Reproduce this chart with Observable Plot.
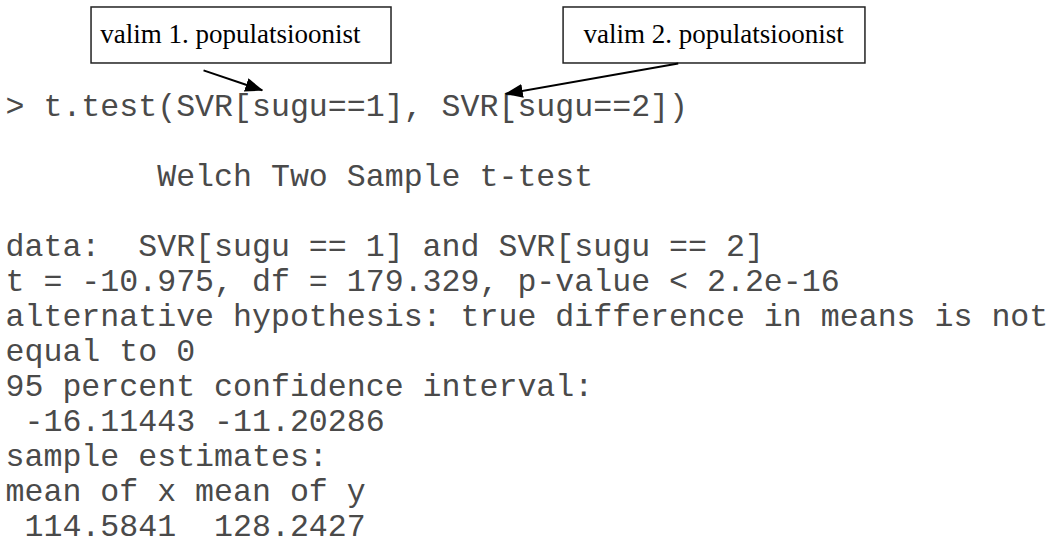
<!DOCTYPE html>
<html>
<head>
<meta charset="utf-8">
<script src="https://cdn.jsdelivr.net/npm/d3@7"></script>
<script src="https://cdn.jsdelivr.net/npm/@observablehq/plot@0.6"></script>
<style>
  html, body { margin: 0; padding: 0; background: #fff; }
  svg text { white-space: pre; }
</style>
</head>
<body>
<div id="chart"></div>
<script>
// R console output, one entry per printed line
const consoleLines = [
  "> t.test(SVR[sugu==1], SVR[sugu==2])",
  "",
  "        Welch Two Sample t-test",
  "",
  "data:  SVR[sugu == 1] and SVR[sugu == 2]",
  "t = -10.975, df = 179.329, p-value < 2.2e-16",
  "alternative hypothesis: true difference in means is not",
  "equal to 0",
  "95 percent confidence interval:",
  " -16.11443 -11.20286",
  "sample estimates:",
  "mean of x mean of y",
  " 114.5841  128.2427"
];

// annotation labels
const calloutLabels = ["valim 1. populatsioonist", "valim 2. populatsioonist"];

// layout of the annotations, in text-grid units (columns, rows)
const calloutBoxes = [
  {c1: 4.54, c2: 20.37, r1: -3.086, r2: -1.486, tc: 5.0, tr: -2.06},
  {c1: 29.45, c2: 45.38, r1: -3.086, r2: -1.486, tc: 30.5, tr: -2.06}
];
const calloutArrows = [
  {c1: 10.45, r1: -1.29, c2: 13.55, r2: -0.72},
  {c1: 35.5, r1: -1.486, c2: 26.4, r2: -0.62}
];

const CHAR = 18.95, LINE = 35.0, X0 = 5, BASE = 115, W = 1054, H = 545;

const rows = consoleLines.map((line, i) => ({line, row: i}));
const boxes = calloutBoxes.map((b, i) => ({...b, label: calloutLabels[i]}));

try {
  const svg = Plot.plot({
    width: W,
    height: H,
    margin: 0,
    style: {background: "white"},
    x: {domain: [0, (W - X0) / CHAR], range: [X0, W], axis: null},
    y: {domain: [-BASE / LINE, (H - BASE) / LINE], range: [0, H], axis: null},
    marks: [
      Plot.text(rows, {
        x: 0, y: "row", text: "line",
        textAnchor: "start", lineAnchor: "bottom",
        fontFamily: "Liberation Mono, monospace", fontSize: 31.6,
        fill: "#4a4a4a"
      }),
      Plot.rect(boxes, {
        x1: "c1", x2: "c2", y1: "r1", y2: "r2",
        fill: "white", stroke: "#222", strokeWidth: 1.5
      }),
      Plot.text(boxes, {
        x: "tc", y: "tr", text: "label",
        textAnchor: "start", lineAnchor: "bottom",
        fontFamily: "Liberation Serif, Times New Roman, serif", fontSize: 27,
        fill: "black"
      }),
      Plot.link(calloutArrows, {
        x1: "c1", y1: "r1", x2: "c2", y2: "r2",
        stroke: "black", strokeWidth: 2, markerEnd: "arrow"
      })
    ]
  });

  // replace the open arrow heads with filled triangular ones
  const s = d3.select(svg);
  s.append("defs").append("marker")
    .attr("id", "filled-head")
    .attr("viewBox", "0 0 18 14")
    .attr("refX", 17).attr("refY", 7)
    .attr("markerWidth", 18).attr("markerHeight", 14)
    .attr("markerUnits", "userSpaceOnUse")
    .attr("orient", "auto")
    .append("path").attr("d", "M0,0L18,7L0,14Z").attr("fill", "black");
  s.selectAll('g[aria-label="link"] path, g[aria-label="link"] line')
    .attr("marker-end", "url(#filled-head)");

  document.getElementById("chart").appendChild(svg);
} catch (e) {
  document.getElementById("chart").textContent = String(e);
}
</script>
</body>
</html>
